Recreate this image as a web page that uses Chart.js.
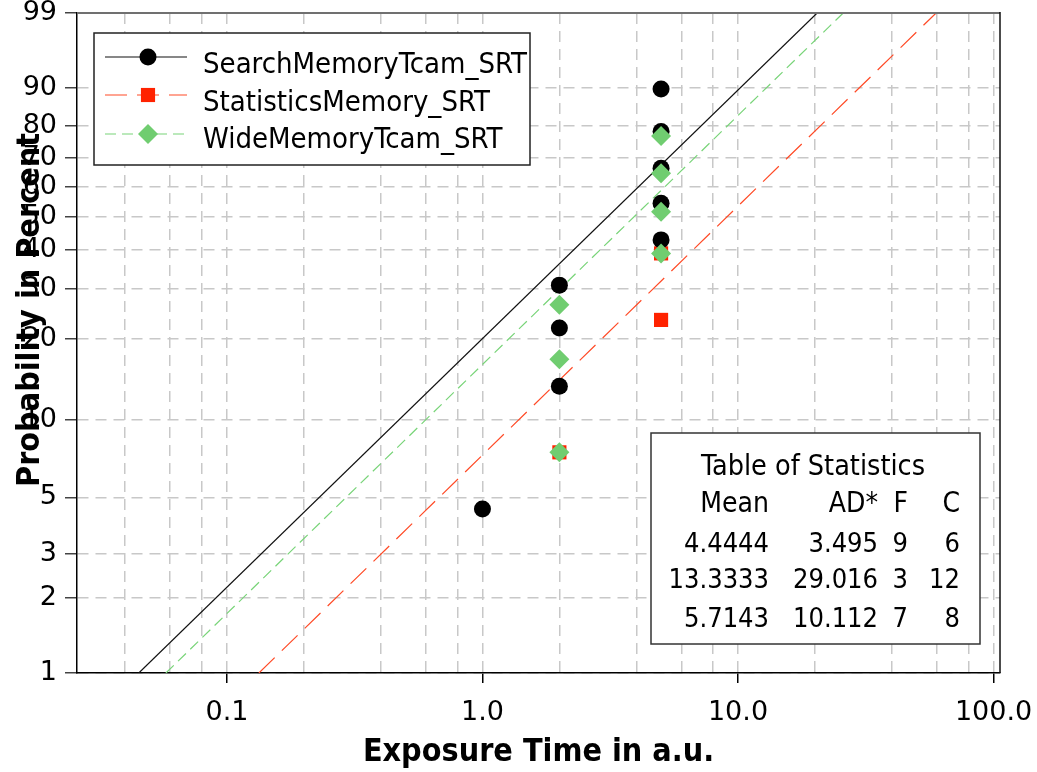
<!DOCTYPE html>
<html>
<head>
<meta charset="utf-8">
<title>Probability plot</title>
<script src="https://cdn.jsdelivr.net/npm/chart.js@4.4.1/dist/chart.umd.min.js"></script>
<style>
  html, body { margin: 0; padding: 0; background: #fff; }
</style>
</head>
<body>
<canvas id="probChart" width="1037" height="772"></canvas>
<script>
const FONT = "'DejaVu Sans Condensed', 'DejaVu Sans', sans-serif";
const TICK_FONT = "'DejaVu Sans', sans-serif";

// axis ticks
const yTickPct = [1, 2, 3, 5, 10, 20, 30, 40, 50, 60, 70, 80, 90, 99];
const xGridTimes = [0.04, 0.06, 0.08, 0.1, 0.2, 0.4, 0.6, 0.8, 1, 2, 4, 6, 8, 10, 20, 40, 60, 80, 100];
const xTickLabels = {0.1: '0.1', 1: '1.0', 10: '10.0', 100: '100.0'};

const seriesNames = ['SearchMemoryTcam_SRT', 'StatisticsMemory_SRT', 'WideMemoryTcam_SRT'];

// observed failures (time, probability in percent)
const searchTime = [1, 2, 2, 2, 5, 5, 5, 5, 5];
const searchPct = [4.5, 13.4, 21.9, 30.8, 42.9, 54.5, 66.4, 78.4, 89.7];
const statTime = [2, 5, 5];
const statPct = [7.5, 23.4, 39.0];
const wideTime = [2, 2, 2, 5, 5, 5, 5];
const widePct = [7.5, 16.9, 26.4, 39.0, 51.7, 64.7, 77.0];

// fitted lines, end points
const fitPct = [1, 99];
const searchFitTime = [0.0452, 20.4];
const statFitTime = [0.1334, 59.6];
const wideFitTime = [0.0577, 25.8];

// table of statistics
const statHeader = ['Mean', 'AD*', 'F', 'C'];
const statMean = ['4.4444', '13.3333', '5.7143'];
const statAD = ['3.495', '29.016', '10.112'];
const statF = ['9', '3', '7'];
const statC = ['6', '12', '8'];

// weibull probability axis
function wb(pct) {
    return Math.log(-Math.log(1 - pct / 100));
}

function toPoints(times, pcts) {
    return times.map((t, i) => ({x: t, y: wb(pcts[i])}));
}

const styles = [
    {color: '#000000', line: '#111111', width: 1.2, dash: [], point: 'circle', radius: 8.5},
    {color: '#ff2200', line: '#ff4a26', width: 1.2, dash: [22, 10], point: 'rect', radius: 10},
    {color: '#70cd70', line: '#78d478', width: 1.2, dash: [11, 6], point: 'rectRot', radius: 10},
];

function getData() {
    const pts = [toPoints(searchTime, searchPct), toPoints(statTime, statPct), toPoints(wideTime, widePct)];
    const fits = [toPoints(searchFitTime, fitPct), toPoints(statFitTime, fitPct), toPoints(wideFitTime, fitPct)];
    const datasets = [];
    // points, green on top
    [2, 0, 1].forEach(i => {
        datasets.push({
            label: seriesNames[i],
            data: pts[i],
            pointStyle: styles[i].point,
            pointRadius: styles[i].radius,
            pointBackgroundColor: styles[i].color,
            pointBorderColor: styles[i].color,
            pointBorderWidth: 0,
            showLine: false,
        });
    });
    [0, 2, 1].forEach(i => {
        datasets.push({
            label: seriesNames[i] + ' fit',
            data: fits[i],
            showLine: true,
            borderColor: styles[i].line,
            borderWidth: styles[i].width,
            borderDash: styles[i].dash,
            pointRadius: 0,
            fill: false,
        });
    });
    return {datasets: datasets};
}

function drawMarker(ctx, style, x, y) {
    const r = style.radius;
    ctx.fillStyle = style.color;
    ctx.beginPath();
    if (style.point === 'circle') {
        ctx.arc(x, y, r, 0, Math.PI * 2);
    } else if (style.point === 'rect') {
        const h = r * Math.SQRT1_2;
        ctx.rect(x - h, y - h, 2 * h, 2 * h);
    } else {
        ctx.moveTo(x, y - r);
        ctx.lineTo(x + r, y);
        ctx.lineTo(x, y + r);
        ctx.lineTo(x - r, y);
        ctx.closePath();
    }
    ctx.fill();
}

const extras = {
    id: 'extras',
    afterDraw(chart) {
        const ctx = chart.ctx;
        const a = chart.chartArea;
        ctx.save();

        // frame top / right
        ctx.setLineDash([]);
        ctx.lineWidth = 2;
        ctx.strokeStyle = '#707070';
        ctx.beginPath();
        ctx.moveTo(a.left, a.top);
        ctx.lineTo(a.right, a.top);
        ctx.stroke();
        ctx.lineWidth = 1.5;
        ctx.strokeStyle = '#111';
        ctx.beginPath();
        ctx.moveTo(a.right, a.top - 1);
        ctx.lineTo(a.right, a.bottom);
        ctx.stroke();

        // y axis title, drawn over the tick labels like the original
        ctx.save();
        ctx.translate(31, 310);
        ctx.rotate(-Math.PI / 2);
        ctx.font = 'bold 32px ' + FONT;
        ctx.fillStyle = '#000';
        ctx.textAlign = 'center';
        ctx.textBaseline = 'middle';
        ctx.fillText('Probability in Percent', 0, 0);
        ctx.restore();

        // legend
        const lx = a.left + 17, ly = a.top + 20;
        ctx.fillStyle = '#fff';
        ctx.fillRect(lx, ly, 436, 132);
        ctx.lineWidth = 1.5;
        ctx.strokeStyle = '#222';
        ctx.strokeRect(lx, ly, 436, 132);
        const rowY = [24, 62, 101];
        const textY = [40, 78, 115];
        seriesNames.forEach((name, i) => {
            const s = styles[i];
            const y = ly + rowY[i];
            ctx.strokeStyle = s.line;
            ctx.lineWidth = s.width;
            ctx.setLineDash(s.dash);
            ctx.beginPath();
            ctx.moveTo(lx + 11, y);
            ctx.lineTo(lx + 93, y);
            ctx.stroke();
            ctx.setLineDash([]);
            drawMarker(ctx, s, lx + 54, y);
            ctx.fillStyle = '#000';
            ctx.font = '29px ' + FONT;
            ctx.textAlign = 'left';
            ctx.textBaseline = 'alphabetic';
            ctx.fillText(name, lx + 109, ly + textY[i]);
        });

        // table of statistics
        const tx = a.right - 349, ty = a.bottom - 240;
        ctx.fillStyle = '#fff';
        ctx.fillRect(tx, ty, 329, 211);
        ctx.lineWidth = 1.5;
        ctx.strokeStyle = '#333';
        ctx.strokeRect(tx, ty, 329, 211);
        ctx.fillStyle = '#000';
        ctx.textBaseline = 'alphabetic';
        ctx.textAlign = 'center';
        ctx.font = '28.5px ' + FONT;
        ctx.fillText('Table of Statistics', tx + 162, ty + 42);
        const colRight = [118, 227, 257, 309];
        const rowsY = [79, 119, 155, 194];
        ctx.textAlign = 'right';
        ctx.font = '28px ' + FONT;
        statHeader.forEach((h, c) => ctx.fillText(h, tx + colRight[c], ty + rowsY[0]));
        ctx.font = '27px ' + FONT;
        statMean.forEach((m, r) => {
            const y = ty + rowsY[r + 1];
            ctx.fillText(m, tx + colRight[0], y);
            ctx.fillText(statAD[r], tx + colRight[1], y);
            ctx.fillText(statF[r], tx + colRight[2], y);
            ctx.fillText(statC[r], tx + colRight[3], y);
        });
        ctx.restore();
    }
};

function getConfig(data) {
    return {
        type: 'scatter',
        data: data,
        options: {
            responsive: false,
            animation: false,
            devicePixelRatio: 1,
            layout: {padding: {top: 13, right: 37, left: 0, bottom: 0}},
            plugins: {
                legend: {display: false},
                tooltip: {enabled: false},
            },
            scales: {
                x: {
                    type: 'logarithmic',
                    min: 0.0259,
                    max: 106,
                    bounds: 'data',
                    afterBuildTicks: (s) => { s.ticks = xGridTimes.map(v => ({value: v})); },
                    afterFit: (s) => {
                        s.height = 99;
                        s.paddingLeft = 0;
                        s.paddingRight = 0;
                    },
                    ticks: {
                        autoSkip: false,
                        maxRotation: 0,
                        padding: 14,
                        color: '#000',
                        font: {family: TICK_FONT, size: 27},
                        callback: (v) => xTickLabels[v] || '',
                    },
                    grid: {
                        color: '#c8c8c8',
                        lineWidth: 1.5,
                        tickLength: 10,
                        tickWidth: 1.5,
                        tickBorderDash: [],
                        tickColor: (c) => (c.tick && xTickLabels[c.tick.value] ? '#000' : 'rgba(0,0,0,0)'),
                    },
                    border: {color: '#000', width: 1.5, dash: [11, 7]},
                    title: {
                        display: true,
                        text: 'Exposure Time in a.u.',
                        color: '#000',
                        font: {family: FONT, size: 32, weight: 'bold'},
                        padding: {top: 0, bottom: 0},
                    },
                },
                y: {
                    type: 'linear',
                    min: wb(1),
                    max: wb(99),
                    afterBuildTicks: (s) => { s.ticks = yTickPct.map(p => ({value: wb(p)})); },
                    afterFit: (s) => {
                        s.width = 77;
                        s.paddingTop = 0;
                        s.paddingBottom = 0;
                    },
                    ticks: {
                        autoSkip: false,
                        padding: 8,
                        color: '#000',
                        font: {family: TICK_FONT, size: 27},
                        callback: (v, i) => String(yTickPct[i]),
                    },
                    grid: {
                        color: '#c8c8c8',
                        lineWidth: 1.5,
                        tickLength: 12,
                        tickWidth: 1.5,
                        tickBorderDash: [],
                        tickColor: '#444',
                    },
                    border: {color: '#000', width: 1.5, dash: [11, 7]},
                },
            },
        },
        plugins: [extras],
    };
}

function drawChart(config, chartId) {
    const curChart = Chart.getChart(chartId);
    if (curChart) {
        curChart.destroy();
    }
    new Chart(document.getElementById(chartId), config);
}

drawChart(getConfig(getData()), 'probChart');
</script>
</body>
</html>
